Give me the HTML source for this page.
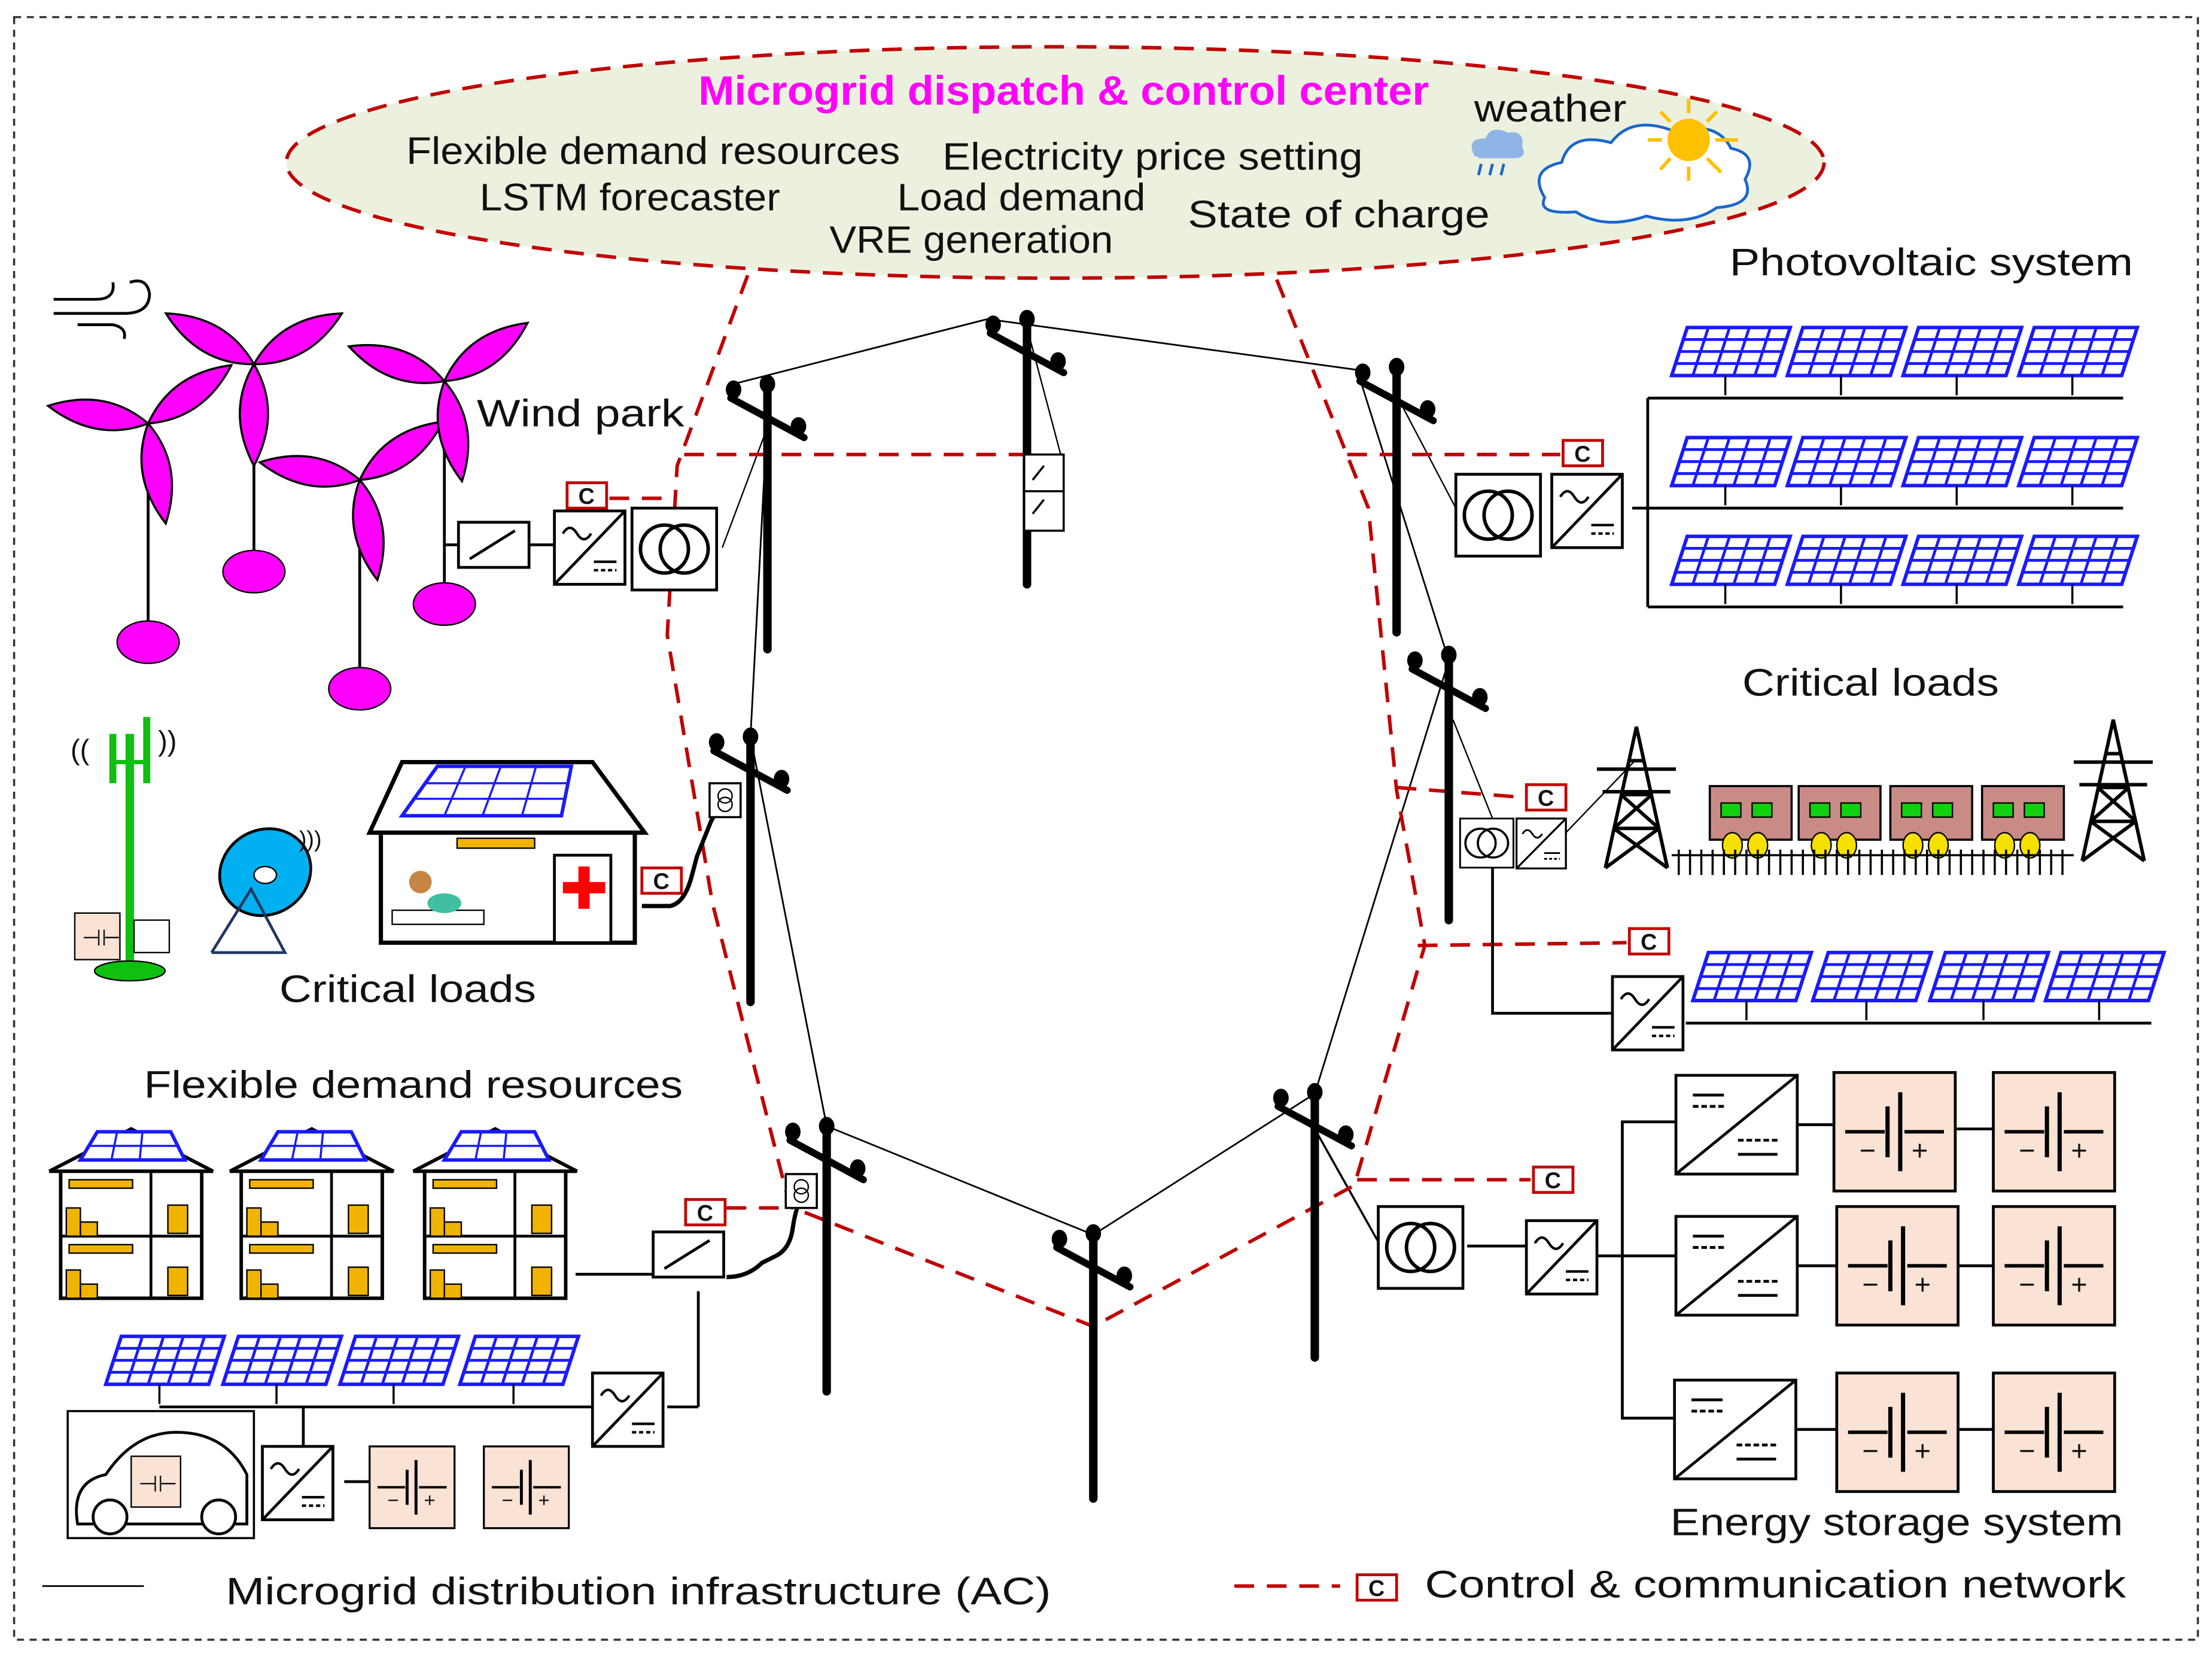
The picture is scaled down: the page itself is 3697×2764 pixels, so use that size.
<!DOCTYPE html>
<html><head><meta charset="utf-8"><style>
html,body{margin:0;padding:0;background:#fff}
svg{display:block}
text{font-family:"Liberation Sans",sans-serif;fill:#111}
</style></head><body>
<svg width="3697" height="2764" viewBox="0 0 1568 1172" xmlns="http://www.w3.org/2000/svg">
<defs>
<g id="pv">
 <polygon points="11,0 84,0 73,34 0,34" fill="#fff" stroke="#1a1aff" stroke-width="2.5"/>
 <g stroke="#1a1aff" stroke-width="2">
  <line x1="8" y1="8.5" x2="81" y2="8.5"/><line x1="5.5" y1="17" x2="78.5" y2="17"/><line x1="3" y1="25.5" x2="76" y2="25.5"/>
  <line x1="26" y1="0" x2="15" y2="34"/><line x1="41" y1="0" x2="30" y2="34"/><line x1="55" y1="0" x2="44" y2="34"/><line x1="70" y1="0" x2="59" y2="34"/>
 </g>
 <line x1="38" y1="34" x2="38" y2="48" stroke="#000" stroke-width="1.5"/>
</g>
<g id="blade"><path d="M0,0 Q20,-34 0,-72 Q-20,-34 0,0Z" fill="#ff00ff" stroke="#000" stroke-width="1.5"/></g>
<g id="conv"><rect x="0" y="0" width="50" height="52" fill="#fff" stroke="#000" stroke-width="2"/><line x1="0" y1="52" x2="50" y2="0" stroke="#000" stroke-width="2"/>
 <path d="M6,16 q5,-8 10,0 t10,0" fill="none" stroke="#000" stroke-width="1.8"/><line x1="28" y1="36" x2="44" y2="36" stroke="#000" stroke-width="1.8"/><line x1="28" y1="42" x2="44" y2="42" stroke="#000" stroke-width="1.8" stroke-dasharray="3,2"/></g>
<g id="dcdc"><rect x="0" y="0" width="86" height="70" fill="#fff" stroke="#000" stroke-width="2"/><line x1="0" y1="70" x2="86" y2="0" stroke="#000" stroke-width="2"/>
 <line x1="12" y1="14" x2="34" y2="14" stroke="#000" stroke-width="2"/><line x1="12" y1="22" x2="34" y2="22" stroke="#000" stroke-width="2" stroke-dasharray="4,2"/>
 <line x1="44" y1="46" x2="72" y2="46" stroke="#000" stroke-width="2" stroke-dasharray="4,2"/><line x1="44" y1="56" x2="72" y2="56" stroke="#000" stroke-width="2"/></g>
<g id="tr"><rect x="0" y="0" width="60" height="58" fill="#fff" stroke="#000" stroke-width="2"/><circle cx="23" cy="29" r="17" fill="none" stroke="#000" stroke-width="2.5"/><circle cx="37" cy="29" r="17" fill="none" stroke="#000" stroke-width="2.5"/></g>
<g id="bat"><rect x="0" y="0" width="86" height="84" fill="#fae3d4" stroke="#000" stroke-width="2"/>
 <line x1="8" y1="42" x2="36" y2="42" stroke="#000" stroke-width="2.5"/><line x1="50" y1="42" x2="78" y2="42" stroke="#000" stroke-width="2.5"/>
 <line x1="38" y1="24" x2="38" y2="60" stroke="#000" stroke-width="3"/><line x1="47" y1="14" x2="47" y2="70" stroke="#000" stroke-width="3"/>
 <text x="18" y="62" font-size="20">−</text><text x="55" y="62" font-size="20">+</text></g>
<g id="sw"><rect x="0" y="0" width="50" height="32" fill="#fff" stroke="#000" stroke-width="2"/><line x1="8" y1="26" x2="40" y2="6" stroke="#000" stroke-width="2"/></g>
<g id="cbox"><rect x="0" y="0" width="28" height="18" fill="#fff" stroke="#c00000" stroke-width="2"/><text x="8" y="15" font-size="16" font-weight="bold">C</text></g>
<g id="pole" stroke="#000" stroke-linecap="round"><line x1="0" y1="0" x2="0" y2="190" stroke-width="6"/><line x1="-26" y1="12" x2="26" y2="40" stroke-width="5"/>
 <ellipse cx="-24" cy="6" rx="5" ry="6" fill="#000"/><ellipse cx="0" cy="2" rx="5" ry="6" fill="#000"/><ellipse cx="22" cy="32" rx="5" ry="6" fill="#000"/></g>
<g id="house"><polygon points="0,30 58,0 116,30" fill="#fff" stroke="#000" stroke-width="2.5"/><polygon points="22,22 34,2 86,2 96,22" fill="#fff" stroke="#1a1aff" stroke-width="2.5"/>
 <g stroke="#1a1aff" stroke-width="1.5"><line x1="28" y1="12" x2="91" y2="12"/><line x1="48" y1="2" x2="44" y2="22"/><line x1="66" y1="2" x2="64" y2="22"/></g>
 <rect x="8" y="30" width="100" height="90" fill="#fff" stroke="#000" stroke-width="2.5"/><line x1="8" y1="76" x2="108" y2="76" stroke="#000" stroke-width="2"/><line x1="72" y1="30" x2="72" y2="120" stroke="#000" stroke-width="2"/>
 <rect x="14" y="36" width="45" height="6" fill="#f0b400" stroke="#000"/><rect x="14" y="82" width="45" height="6" fill="#f0b400" stroke="#000"/>
 <rect x="12" y="56" width="10" height="20" fill="#f0b400" stroke="#000"/><rect x="22" y="66" width="12" height="10" fill="#f0b400" stroke="#000"/>
 <rect x="12" y="100" width="10" height="20" fill="#f0b400" stroke="#000"/><rect x="22" y="110" width="12" height="10" fill="#f0b400" stroke="#000"/>
 <rect x="84" y="54" width="14" height="20" fill="#f0b400" stroke="#000"/><rect x="84" y="98" width="14" height="20" fill="#f0b400" stroke="#000"/></g>
<g id="tower" fill="none" stroke="#000" stroke-width="2.5"><path d="M0,100 L22,0 L44,100 M6,72 L38,72 M11,48 L33,48 M16,24 L28,24 M6,72 L33,48 M38,72 L11,48 M0,100 L38,72 M44,100 L6,72"/><path d="M-6,30 L50,30 M-2,46 L46,46"/></g>
<g id="car"><rect x="0" y="0" width="58" height="38" fill="#c98b86" stroke="#000" stroke-width="1.5"/><rect x="8" y="12" width="14" height="10" fill="#10d010" stroke="#000"/><rect x="30" y="12" width="14" height="10" fill="#10d010" stroke="#000"/>
 <ellipse cx="16" cy="42" rx="7" ry="9" fill="#f5e000" stroke="#000"/><ellipse cx="34" cy="42" rx="7" ry="9" fill="#f5e000" stroke="#000"/></g>
</defs>

<rect x="10" y="12" width="1548" height="1150" fill="none" stroke="#333" stroke-width="1.5" stroke-dasharray="5,4"/>

<ellipse cx="748" cy="115" rx="545" ry="82" fill="#ebf1de" stroke="#c00000" stroke-width="2.5" stroke-dasharray="14,9"/>
<g lengthAdjust="spacingAndGlyphs">
<text x="495" y="74" font-size="29" font-weight="bold" style="fill:#ff00ff" textLength="518" lengthAdjust="spacingAndGlyphs">Microgrid dispatch &amp; control center</text>
<text x="288" y="116" font-size="27" textLength="350" lengthAdjust="spacingAndGlyphs">Flexible demand resources</text>
<text x="668" y="120" font-size="27" textLength="298" lengthAdjust="spacingAndGlyphs">Electricity price setting</text>
<text x="340" y="149" font-size="27" textLength="213" lengthAdjust="spacingAndGlyphs">LSTM forecaster</text>
<text x="636" y="149" font-size="27" textLength="176" lengthAdjust="spacingAndGlyphs">Load demand</text>
<text x="842" y="161" font-size="27" textLength="214" lengthAdjust="spacingAndGlyphs">State of charge</text>
<text x="588" y="179" font-size="27" textLength="201" lengthAdjust="spacingAndGlyphs">VRE generation</text>
<text x="1045" y="86" font-size="27" textLength="108" lengthAdjust="spacingAndGlyphs">weather</text>
</g>
<path d="M1095,140 q-12,-20 12,-25 q6,-22 35,-14 q15,-20 45,-8 q30,-8 40,12 q20,4 10,22 q8,18 -20,20 q-20,14 -50,6 q-30,10 -50,-3 q-28,2 -22,-10z" fill="#fff" stroke="#1a66cc" stroke-width="2"/>
<circle cx="1197" cy="99" r="15" fill="#ffc000"/>
<g stroke="#ffc000" stroke-width="2.5"><line x1="1197" y1="70" x2="1197" y2="80"/><line x1="1197" y1="118" x2="1197" y2="128"/><line x1="1168" y1="99" x2="1178" y2="99"/><line x1="1216" y1="99" x2="1232" y2="99"/><line x1="1177" y1="79" x2="1184" y2="86"/><line x1="1210" y1="112" x2="1220" y2="122"/><line x1="1217" y1="79" x2="1210" y2="86"/><line x1="1184" y1="112" x2="1177" y2="120"/></g>
<path d="M1045,110 q-6,-12 8,-12 q4,-10 16,-4 q12,-2 10,10 q4,8 -6,8 h-24z" fill="#8fb4e6"/>
<g stroke="#1a66cc" stroke-width="2"><line x1="1050" y1="116" x2="1048" y2="124"/><line x1="1058" y1="116" x2="1056" y2="124"/><line x1="1066" y1="116" x2="1064" y2="124"/></g>

<polyline points="520,272 700,226 962,262 1027,468 932,775 775,875 586,798 532,522 545,275" fill="none" stroke="#000" stroke-width="1.2"/>
<line x1="728" y1="232" x2="754" y2="330" stroke="#000" stroke-width="1"/>
<line x1="990" y1="280" x2="1032" y2="360" stroke="#000" stroke-width="1"/>
<line x1="545" y1="300" x2="512" y2="388" stroke="#000" stroke-width="1"/>
<line x1="1030" y1="510" x2="1058" y2="580" stroke="#000" stroke-width="1"/>
<line x1="932" y1="800" x2="977" y2="880" stroke="#000" stroke-width="1.5"/>

<g fill="none" stroke="#c00000" stroke-width="2.5" stroke-dasharray="14,9">
<polyline points="530,195 480,330 473,450 505,640 560,855 775,940 960,840 1010,670 990,560 970,360 905,198"/>
<line x1="485" y1="322" x2="728" y2="322"/>
<line x1="955" y1="322" x2="1106" y2="322"/>
<line x1="990" y1="558" x2="1080" y2="565"/>
<line x1="1005" y1="670" x2="1153" y2="668"/>
<line x1="962" y1="836" x2="1085" y2="836"/>
<line x1="515" y1="856" x2="562" y2="856"/>
<line x1="432" y1="353" x2="475" y2="353"/>
</g>

<use href="#pole" x="544" y="270"/>
<use href="#pole" x="728" y="224"/>
<use href="#pole" x="990" y="258"/>
<use href="#pole" x="1027" y="462"/>
<use href="#pole" x="532" y="520"/>
<use href="#pole" x="586" y="796"/>
<use href="#pole" x="775" y="872"/>
<use href="#pole" x="932" y="772"/>
<rect x="726" y="322" width="28" height="54" fill="#fff" stroke="#000" stroke-width="1.5"/>
<g stroke="#000" stroke-width="1.5"><line x1="732" y1="340" x2="740" y2="330"/><line x1="732" y1="364" x2="740" y2="354"/><line x1="726" y1="348" x2="754" y2="348"/></g>

<path d="M38,212 h30 q14,0 12,-12 M38,222 h50 q18,0 18,-14 q-2,-12 -14,-8 M55,230 h25 q10,2 8,10" fill="none" stroke="#000" stroke-width="2"/>
<g stroke="#000" stroke-width="2">
<line x1="105" y1="300" x2="105" y2="440"/><line x1="180" y1="258" x2="180" y2="390"/><line x1="255" y1="340" x2="255" y2="473"/><line x1="315" y1="270" x2="315" y2="413"/></g>
<ellipse cx="105" cy="455" rx="22" ry="15" fill="#ff00ff" stroke="#000"/><ellipse cx="180" cy="405" rx="22" ry="15" fill="#ff00ff" stroke="#000"/>
<ellipse cx="255" cy="488" rx="22" ry="15" fill="#ff00ff" stroke="#000"/><ellipse cx="315" cy="428" rx="22" ry="15" fill="#ff00ff" stroke="#000"/>
<g transform="translate(105,300)"><use href="#blade" transform="rotate(-80)"/><use href="#blade" transform="rotate(55)"/><use href="#blade" transform="rotate(170)"/></g>
<g transform="translate(180,258)"><use href="#blade" transform="rotate(-60)"/><use href="#blade" transform="rotate(60)"/><use href="#blade" transform="rotate(180)"/></g>
<g transform="translate(255,340)"><use href="#blade" transform="rotate(-80)"/><use href="#blade" transform="rotate(55)"/><use href="#blade" transform="rotate(170)"/></g>
<g transform="translate(315,270)"><use href="#blade" transform="rotate(-70)"/><use href="#blade" transform="rotate(55)"/><use href="#blade" transform="rotate(170)"/></g>
<text x="338" y="302" font-size="27" textLength="147" lengthAdjust="spacingAndGlyphs">Wind park</text>
<line x1="315" y1="386" x2="325" y2="386" stroke="#000" stroke-width="2"/>
<use href="#sw" x="325" y="370"/>
<line x1="375" y1="386" x2="393" y2="386" stroke="#000" stroke-width="2"/>
<use href="#conv" x="393" y="362"/>
<use href="#tr" x="448" y="360"/>
<use href="#cbox" x="402" y="342"/>

<line x1="92" y1="520" x2="92" y2="685" stroke="#10c010" stroke-width="6"/><line x1="80" y1="520" x2="80" y2="555" stroke="#10c010" stroke-width="5"/><line x1="104" y1="508" x2="104" y2="555" stroke="#10c010" stroke-width="5"/>
<line x1="80" y1="540" x2="104" y2="540" stroke="#10c010" stroke-width="3"/>
<ellipse cx="92" cy="688" rx="25" ry="7" fill="#10c010" stroke="#000"/>
<text x="50" y="538" font-size="20">((</text><text x="112" y="532" font-size="20">))</text>
<rect x="53" y="647" width="32" height="33" fill="#fae3d4" stroke="#000"/><text x="58" y="670" font-size="16">⊣⊢</text>
<rect x="95" y="652" width="25" height="23" fill="#fff" stroke="#000"/>
<ellipse cx="188" cy="618" rx="33" ry="30" fill="#00b0f0" stroke="#000" stroke-width="2" transform="rotate(-30,188,618)"/>
<ellipse cx="188" cy="620" rx="8" ry="6" fill="#fff" stroke="#000"/>
<polyline points="150,675 178,630 202,675 150,675" fill="none" stroke="#1f3864" stroke-width="2"/>
<text x="212" y="600" font-size="16">)))</text>
<polygon points="262,590 285,540 420,540 457,590" fill="#fff" stroke="#000" stroke-width="3"/>
<polygon points="285,578 310,543 405,543 398,578" fill="#fff" stroke="#1a1aff" stroke-width="2.5"/>
<g stroke="#1a1aff" stroke-width="1.5"><line x1="295" y1="566" x2="401" y2="566"/><line x1="301" y1="555" x2="403" y2="555"/><line x1="330" y1="543" x2="315" y2="578"/><line x1="355" y1="543" x2="342" y2="578"/><line x1="380" y1="543" x2="370" y2="578"/></g>
<rect x="270" y="590" width="180" height="78" fill="#fff" stroke="#000" stroke-width="3"/>
<rect x="324" y="594" width="55" height="7" fill="#f0b400" stroke="#000"/>
<rect x="393" y="606" width="40" height="62" fill="#fff" stroke="#000" stroke-width="2"/>
<rect x="410" y="614" width="8" height="30" fill="#ff0000"/><rect x="399" y="625" width="30" height="8" fill="#ff0000"/>
<rect x="278" y="645" width="65" height="10" fill="#fff" stroke="#000"/><circle cx="298" cy="625" r="8" fill="#c68642"/><ellipse cx="315" cy="640" rx="12" ry="7" fill="#40c0a0"/>
<use href="#cbox" x="455" y="615"/>
<path d="M455,642 h20 q10,-2 15,-20 l4,-15 q4,-10 10,-25 l10,-18" fill="none" stroke="#000" stroke-width="3"/>
<rect x="503" y="555" width="22" height="24" fill="#fff" stroke="#000" stroke-width="1.5"/><circle cx="514" cy="564" r="5" fill="none" stroke="#000"/><circle cx="514" cy="570" r="5" fill="none" stroke="#000"/>
<text x="198" y="710" font-size="27" textLength="182" lengthAdjust="spacingAndGlyphs">Critical loads</text>

<text x="102" y="778" font-size="27" textLength="382" lengthAdjust="spacingAndGlyphs">Flexible demand resources</text>
<use href="#house" x="35" y="800"/><use href="#house" x="163" y="800"/><use href="#house" x="293" y="800"/>
<line x1="408" y1="903" x2="463" y2="903" stroke="#000" stroke-width="2"/>
<use href="#sw" x="463" y="873"/>
<use href="#cbox" x="486" y="850"/>
<path d="M515,905 q15,0 25,-10 l10,-5 q10,-5 12,-20 q2,-15 8,-25" fill="none" stroke="#000" stroke-width="3"/>
<rect x="557" y="832" width="22" height="24" fill="#fff" stroke="#000" stroke-width="1.5"/><circle cx="568" cy="841" r="5" fill="none" stroke="#000"/><circle cx="568" cy="847" r="5" fill="none" stroke="#000"/>
<line x1="495" y1="915" x2="495" y2="997" stroke="#000" stroke-width="2"/>
<use href="#pv" x="75" y="947"/><use href="#pv" x="158" y="947"/><use href="#pv" x="241" y="947"/><use href="#pv" x="326" y="947"/>
<line x1="113" y1="997" x2="420" y2="997" stroke="#000" stroke-width="2"/>
<line x1="473" y1="997" x2="495" y2="997" stroke="#000" stroke-width="2"/>
<use href="#conv" x="420" y="973"/>
<line x1="215" y1="997" x2="215" y2="1025" stroke="#000" stroke-width="2"/>
<rect x="48" y="1000" width="132" height="90" fill="#fff" stroke="#000" stroke-width="1.5"/>
<path d="M55,1080 q-5,-30 20,-35 q20,-30 50,-30 q35,0 50,30 v35 z" fill="none" stroke="#000" stroke-width="2"/>
<circle cx="78" cy="1075" r="12" fill="#fff" stroke="#000" stroke-width="2"/><circle cx="155" cy="1075" r="12" fill="#fff" stroke="#000" stroke-width="2"/>
<rect x="93" y="1032" width="35" height="36" fill="#fae3d4" stroke="#000"/><text x="98" y="1057" font-size="16">⊣⊢</text>
<use href="#conv" x="186" y="1025"/>
<line x1="244" y1="1050" x2="262" y2="1050" stroke="#000" stroke-width="2"/>
<g transform="translate(262,1025) scale(0.7,0.69)"><use href="#bat"/></g>
<g transform="translate(343,1025) scale(0.7,0.69)"><use href="#bat"/></g>

<text x="1226" y="195" font-size="27" textLength="286" lengthAdjust="spacingAndGlyphs">Photovoltaic system</text>
<g><use href="#pv" x="1185" y="232"/><use href="#pv" x="1267" y="232"/><use href="#pv" x="1349" y="232"/><use href="#pv" x="1431" y="232"/>
<use href="#pv" x="1185" y="310"/><use href="#pv" x="1267" y="310"/><use href="#pv" x="1349" y="310"/><use href="#pv" x="1431" y="310"/>
<use href="#pv" x="1185" y="380"/><use href="#pv" x="1267" y="380"/><use href="#pv" x="1349" y="380"/><use href="#pv" x="1431" y="380"/></g>
<g stroke="#000" stroke-width="2"><line x1="1168" y1="282" x2="1505" y2="282"/><line x1="1157" y1="360" x2="1505" y2="360"/><line x1="1168" y1="430" x2="1505" y2="430"/><line x1="1168" y1="282" x2="1168" y2="430"/></g>
<use href="#tr" x="1032" y="336"/><use href="#conv" x="1100" y="336"/>
<use href="#cbox" x="1108" y="312"/>

<text x="1235" y="493" font-size="27" textLength="182" lengthAdjust="spacingAndGlyphs">Critical loads</text>
<use href="#tower" x="1138" y="515"/><use href="#tower" x="1476" y="510"/>
<line x1="1110" y1="590" x2="1158" y2="540" stroke="#000" stroke-width="1"/>
<use href="#car" x="1212" y="557"/><use href="#car" x="1275" y="557"/><use href="#car" x="1340" y="557"/><use href="#car" x="1405" y="557"/>
<g stroke="#000" stroke-width="1.5"><line x1="1185" y1="606" x2="1470" y2="606"/>
<path d="M1190,602 v18 M1198,602 v18 M1206,602 v18 M1214,602 v18 M1222,602 v18 M1230,602 v18 M1238,602 v18 M1246,602 v18 M1254,602 v18 M1262,602 v18 M1270,602 v18 M1278,602 v18 M1286,602 v18 M1294,602 v18 M1302,602 v18 M1310,602 v18 M1318,602 v18 M1326,602 v18 M1334,602 v18 M1342,602 v18 M1350,602 v18 M1358,602 v18 M1366,602 v18 M1374,602 v18 M1382,602 v18 M1390,602 v18 M1398,602 v18 M1406,602 v18 M1414,602 v18 M1422,602 v18 M1430,602 v18 M1438,602 v18 M1446,602 v18 M1454,602 v18 M1462,602 v18"/></g>
<g transform="translate(1035,580) scale(0.63,0.6)"><use href="#tr"/></g>
<g transform="translate(1075,580) scale(0.7,0.68)"><use href="#conv"/></g>
<use href="#cbox" x="1082" y="556"/>
<use href="#pv" x="1200" y="675"/><use href="#pv" x="1285" y="675"/><use href="#pv" x="1368" y="675"/><use href="#pv" x="1450" y="675"/>
<polyline points="1058,615 1058,718 1143,718" fill="none" stroke="#000" stroke-width="2"/>
<line x1="1195" y1="725" x2="1525" y2="725" stroke="#000" stroke-width="2"/>
<use href="#conv" x="1143" y="692"/>
<use href="#cbox" x="1155" y="658"/>

<use href="#tr" x="977" y="855"/>
<line x1="1040" y1="883" x2="1082" y2="883" stroke="#000" stroke-width="2"/>
<use href="#conv" x="1082" y="865"/>
<use href="#cbox" x="1087" y="827"/>
<g stroke="#000" stroke-width="2"><line x1="1132" y1="890" x2="1188" y2="890"/><polyline points="1188,795 1150,795 1150,1005 1188,1005" fill="none"/>
<line x1="1275" y1="797" x2="1300" y2="797"/><line x1="1387" y1="800" x2="1413" y2="800"/>
<line x1="1275" y1="897" x2="1303" y2="897"/><line x1="1388" y1="897" x2="1413" y2="897"/>
<line x1="1273" y1="1013" x2="1303" y2="1013"/><line x1="1388" y1="1013" x2="1413" y2="1013"/></g>
<use href="#dcdc" x="1188" y="762"/><use href="#dcdc" x="1188" y="862"/><use href="#dcdc" x="1187" y="978"/>
<use href="#bat" x="1300" y="760"/><use href="#bat" x="1413" y="760"/>
<use href="#bat" x="1302" y="855"/><use href="#bat" x="1413" y="855"/>
<use href="#bat" x="1302" y="973"/><use href="#bat" x="1413" y="973"/>
<text x="1184" y="1088" font-size="27" textLength="321" lengthAdjust="spacingAndGlyphs">Energy storage system</text>

<line x1="30" y1="1124" x2="102" y2="1124" stroke="#000" stroke-width="1.2"/>
<text x="160" y="1137" font-size="27" textLength="585" lengthAdjust="spacingAndGlyphs">Microgrid distribution infrastructure (AC)</text>
<line x1="875" y1="1124" x2="950" y2="1124" stroke="#c00000" stroke-width="2.5" stroke-dasharray="14,9"/>
<use href="#cbox" x="962" y="1116"/>
<text x="1010" y="1132" font-size="27" textLength="497" lengthAdjust="spacingAndGlyphs">Control &amp; communication network</text>
</svg>
</body></html>
